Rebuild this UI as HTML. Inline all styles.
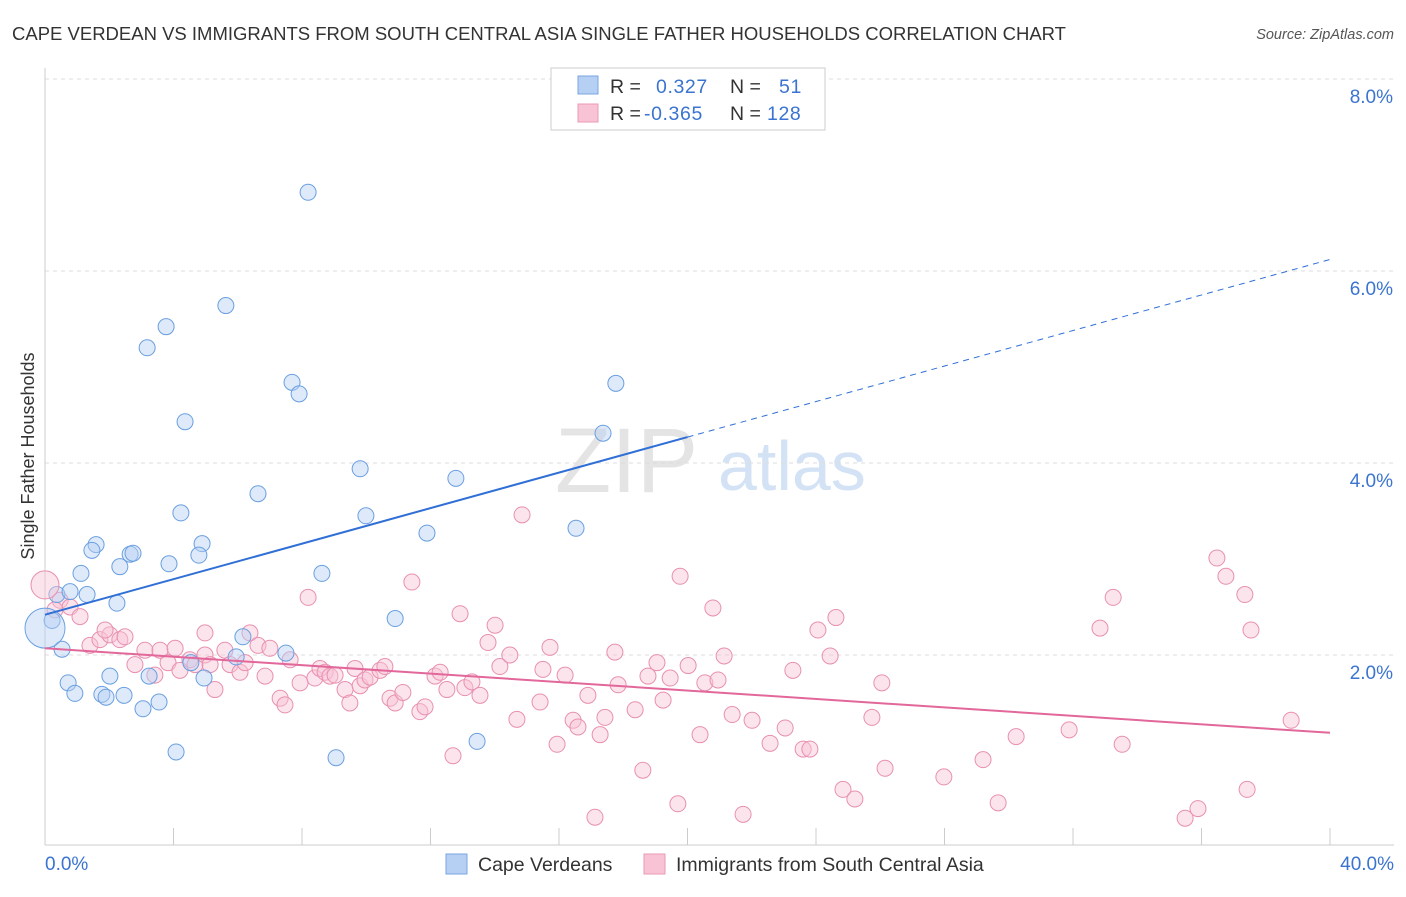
<!DOCTYPE html>
<html><head><meta charset="utf-8"><style>
body{margin:0;background:#fff;font-family:"Liberation Sans",sans-serif;}
svg text{font-family:"Liberation Sans",sans-serif;}
</style></head><body>
<svg id="chart" width="1406" height="892" xmlns="http://www.w3.org/2000/svg">
<text x="12" y="40" font-size="18.5" fill="#333">CAPE VERDEAN VS IMMIGRANTS FROM SOUTH CENTRAL ASIA SINGLE FATHER HOUSEHOLDS CORRELATION CHART</text>
<text x="1394" y="39" font-size="14.5" fill="#555" font-style="italic" text-anchor="end">Source: ZipAtlas.com</text>
<g>
<text x="555" y="492" font-size="92" fill="#e4e4e4" font-family="Liberation Serif">ZIP</text>
<text x="718" y="490" font-size="70" fill="#d3e2f5">atlas</text>
</g>
<text transform="translate(34,456) rotate(-90)" font-size="18" fill="#333" text-anchor="middle">Single Father Households</text>
<g id="grid"></g>
<g id="marks"></g>
<g>
<rect x="551" y="68" width="274" height="62" fill="#fff" stroke="#ccc"/>
<rect x="578" y="76" width="20" height="18" fill="#b5d0f3" stroke="#7aa6e3"/>
<rect x="578" y="104" width="20" height="18" fill="#f8c3d4" stroke="#eb98b6"/>
<text x="610" y="93" font-size="19.5" fill="#333">R =</text>
<text x="656" y="93" font-size="19.5" fill="#3a74d0" letter-spacing="0.6">0.327</text>
<text x="730" y="93" font-size="19.5" fill="#333">N =</text>
<text x="779" y="93" font-size="19.5" fill="#3a74d0" letter-spacing="0.6">51</text>
<text x="610" y="120" font-size="19.5" fill="#333">R =</text>
<text x="644" y="120" font-size="19.5" fill="#3a74d0" letter-spacing="0.6">-0.365</text>
<text x="730" y="120" font-size="19.5" fill="#333">N =</text>
<text x="767" y="120" font-size="19.5" fill="#3a74d0" letter-spacing="0.6">128</text>
</g>
<g>
<rect x="446" y="854" width="21" height="20" fill="#b5d0f3" stroke="#7aa6e3"/>
<text x="478" y="871" font-size="19.5" fill="#333">Cape Verdeans</text>
<rect x="644" y="854" width="21" height="20" fill="#f8c3d4" stroke="#eb98b6"/>
<text x="676" y="871" font-size="19.5" fill="#333">Immigrants from South Central Asia</text>
</g>
</svg>
<script>
const yTicks=[2,4,6,8];
const yTickLabels=["2.0%","4.0%","6.0%","8.0%"];
const xTickValues=[0,4,8,12,16,20,24,28,32,36,40];
const xEndLabels=["0.0%","40.0%"];
const blueX=[8.19,5.63,3.77,3.18,7.69,7.91,17.77,4.36,17.37,9.81,12.79,6.63,4.23,9.99,16.53,11.89,4.89,1.59,1.46,2.65,2.74,4.79,3.86,2.33,1.12,8.62,0.37,0.78,1.31,2.24,10.90,0.22,6.16,0.53,5.95,7.50,4.54,3.24,2.02,4.95,0.72,0.93,1.77,1.90,2.46,3.55,3.05,13.45,4.08,9.06];
const blueY=[6.82,5.64,5.42,5.20,4.84,4.72,4.83,4.43,4.31,3.94,3.84,3.68,3.48,3.45,3.32,3.27,3.16,3.15,3.09,3.05,3.06,3.04,2.95,2.92,2.85,2.85,2.63,2.66,2.63,2.54,2.38,2.36,2.19,2.06,1.98,2.02,1.92,1.78,1.78,1.76,1.71,1.60,1.59,1.56,1.58,1.51,1.44,1.10,0.99,0.93];
const pinkX=[0.47,0.78,1.09,0.31,1.40,1.71,2.02,2.33,2.49,1.87,2.80,3.11,3.58,3.42,4.05,3.83,4.20,4.51,4.67,4.98,5.14,5.29,4.98,5.60,5.76,6.07,6.23,6.38,6.63,7.00,6.85,7.32,7.47,7.63,7.94,8.19,8.40,8.56,8.72,8.87,9.03,9.34,9.49,9.65,9.81,9.96,10.12,10.43,10.58,10.74,10.90,11.14,11.42,11.67,11.83,12.14,12.30,12.51,12.70,12.92,13.07,13.29,13.54,13.79,14.01,14.16,14.47,14.69,14.85,15.41,15.50,15.72,15.94,16.19,16.44,16.59,16.90,17.12,17.28,17.43,17.74,17.84,18.37,18.61,18.77,19.05,19.24,19.46,19.77,19.70,20.02,20.39,20.54,20.79,20.95,21.14,21.39,21.73,22.01,22.57,23.04,23.28,23.60,23.81,24.06,24.44,24.62,24.84,25.21,25.74,26.05,26.15,27.98,29.20,29.67,30.23,31.88,32.84,33.25,33.53,35.49,35.89,36.48,36.76,37.35,37.42,37.54,38.79];
const pinkY=[2.57,2.50,2.40,2.47,2.10,2.16,2.21,2.16,2.19,2.26,1.90,2.05,2.05,1.79,2.07,1.92,1.84,1.95,1.90,2.00,1.90,1.64,2.23,2.05,1.90,1.82,1.92,2.23,2.10,2.07,1.78,1.55,1.48,1.95,1.71,2.60,1.76,1.86,1.82,1.78,1.79,1.64,1.50,1.86,1.68,1.74,1.77,1.84,1.88,1.55,1.50,1.61,2.76,1.41,1.46,1.78,1.82,1.64,0.95,2.43,1.66,1.72,1.58,2.13,2.31,1.88,2.00,1.33,3.46,1.51,1.85,2.08,1.07,1.79,1.32,1.25,1.58,0.31,1.17,1.35,2.03,1.69,1.43,0.80,1.78,1.92,1.53,1.76,2.82,0.45,1.89,1.17,1.71,2.49,1.74,1.99,1.38,0.34,1.32,1.08,1.24,1.84,1.02,1.02,2.26,1.99,2.39,0.60,0.50,1.35,1.71,0.82,0.73,0.91,0.46,1.15,1.22,2.28,2.60,1.07,0.30,0.40,3.01,2.82,2.63,0.60,2.26,1.32];
const blueBig=[0,2.28];
const pinkBig=[0,2.73];
const blueFit=[2.42,0.0925];
const pinkFit=[2.07,-0.022];

const NS="http://www.w3.org/2000/svg";
const X=v=>45+v*32.125;
const Y=v=>847-v*96;
function mk(tag,attrs,parent){const e=document.createElementNS(NS,tag);for(const k in attrs)e.setAttribute(k,attrs[k]);parent.appendChild(e);return e;}
const grid=document.getElementById('grid'),marks=document.getElementById('marks');
yTicks.forEach((t,i)=>{
 const l=mk('line',{x1:45,x2:1394,y1:Y(t),y2:Y(t),stroke:'#ddd','stroke-dasharray':'4,4'},grid);
 
 
 const tx=mk('text',{x:1393,y:Y(t)+24,'font-size':19,fill:'#3a74d0','text-anchor':'end'},grid);
 tx.textContent=yTickLabels[i];
 
 
});
const ax=mk('line',{x1:45,x2:1394,y1:845,y2:845,stroke:'#ccc'},grid);


const ay=mk('line',{x1:45,x2:45,y1:68,y2:845,stroke:'#ccc'},grid);


xTickValues.forEach(t=>{
 const l=mk('line',{x1:X(t),x2:X(t),y1:828,y2:845,stroke:'#ccc'},grid);
 
 
});
[[0,'start',45],[40,'end',1394]].forEach((d,i)=>{
 const tx=mk('text',{x:d[2],y:870,'font-size':19,fill:'#3a74d0','text-anchor':d[1]},grid);
 tx.textContent=xEndLabels[i];
 
 
});
function dots(xs,ys,fill,stroke,name){
 xs.forEach((x,i)=>{
  const c=mk('circle',{cx:X(x),cy:Y(ys[i]),r:8,fill:fill,'fill-opacity':0.45,stroke:stroke,'stroke-width':1},marks);
  
  
 });
}
dots(pinkX,pinkY,'#f8c3d4','#e890b0','point-immigrants');
dots(blueX,blueY,'#b5d0f3','#6a9fe0','point-cape-verdeans');
const pb=mk('circle',{cx:X(pinkBig[0]),cy:Y(pinkBig[1]),r:14,fill:'#f8c3d4','fill-opacity':0.45,stroke:'#e890b0'},marks);


const bb=mk('circle',{cx:X(blueBig[0]),cy:Y(blueBig[1]),r:20,fill:'#b5d0f3','fill-opacity':0.45,stroke:'#6a9fe0'},marks);


const bl=mk('line',{x1:X(0),y1:Y(blueFit[0]),x2:X(20),y2:Y(blueFit[0]+blueFit[1]*20),stroke:'#2f6fd6','stroke-width':2},marks);


const bd=mk('line',{x1:X(20),y1:Y(blueFit[0]+blueFit[1]*20),x2:X(40),y2:Y(blueFit[0]+blueFit[1]*40),stroke:'#2f6fd6','stroke-width':1,'stroke-dasharray':'6,5'},marks);


const pl=mk('line',{x1:X(0),y1:Y(pinkFit[0]),x2:X(40),y2:Y(pinkFit[0]+pinkFit[1]*40),stroke:'#e2679a','stroke-width':2},marks);


</script>
</body></html>
